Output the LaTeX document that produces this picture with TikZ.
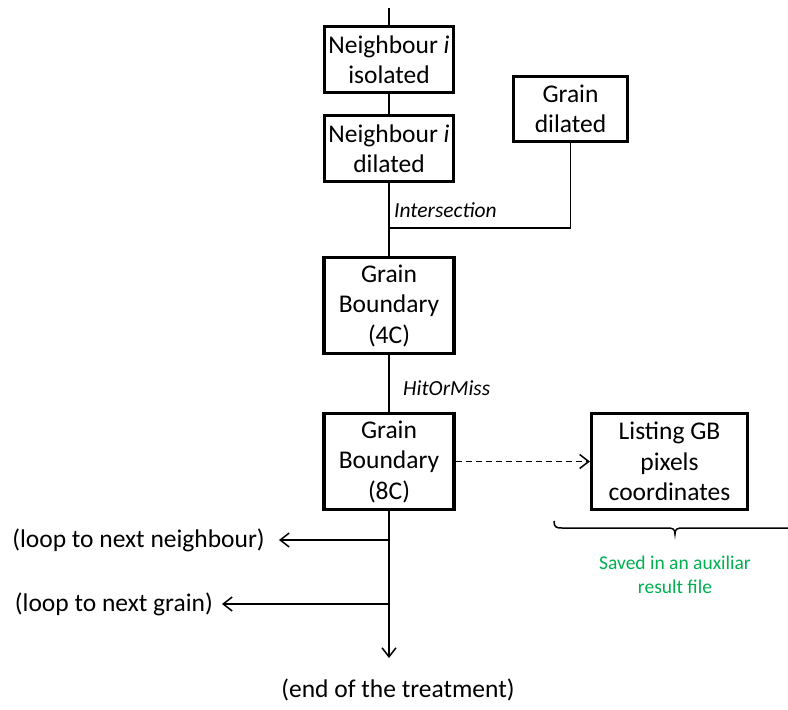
\documentclass[tikz,border=0pt]{standalone}
\usepackage{fontspec}
\setmainfont{Carlito}
\usetikzlibrary{arrows.meta}
\definecolor{offgreen}{HTML}{00B050}
\tikzset{
  box/.style={draw, line width=3.2pt, inner sep=0pt, align=center,
    font=\fontsize{25.5}{30.5}\selectfont},
  conn/.style={line width=1.5pt},
  arr/.style={conn, -{Straight Barb[length=9pt,width=14pt,line width=1.5pt]}},
  lab/.style={inner sep=0pt, font=\fontsize{21.5}{26}\selectfont\itshape},
  txt/.style={inner sep=0pt, font=\fontsize{25.5}{30.5}\selectfont},
}
\begin{document}
\begin{tikzpicture}[x=1pt,y=-1pt]
\useasboundingbox (0,0) rectangle (788,710);
\node[box, minimum width=129pt, minimum height=66pt] (iso) at (389,59.5) {Neighbour \textit{i}\\isolated};
\node[box, minimum width=129pt, minimum height=66pt] (dil) at (389,148.5) {Neighbour \textit{i}\\dilated};
\node[box, minimum width=114pt, minimum height=65pt] (gd) at (570.5,109) {Grain\\dilated};
\node[box, minimum width=130pt, minimum height=96pt] (gb4) at (389,305.5) {Grain\\Boundary\\(4C)};
\node[box, minimum width=130pt, minimum height=96pt] (gb8) at (389,461.5) {Grain\\Boundary\\(8C)};
\node[box, minimum width=156pt, minimum height=96pt] (lst) at (669.5,461.5) {Listing GB\\pixels\\coordinates};

\coordinate (top) at (389,8);
\coordinate (jx) at (389,228);
\coordinate (j1) at (389,540);
\coordinate (j2) at (389,604);
\coordinate (endp) at (389,658);

\node[lab, anchor=west] (inter) at (394,210) {Intersection};
\node[lab, anchor=west] (hom) at (403,388) {HitOrMiss};
\node[txt, anchor=east] (ln) at (265,540) {(loop to next neighbour)};
\node[txt, anchor=east] (lg) at (213,604) {(loop to next grain)};
\node[txt] (endt) at (398,690) {(end of the treatment)};
\node[inner sep=0pt, align=center, text=offgreen, font=\fontsize{19.5}{23.5}\selectfont] (saved) at (675,575) {Saved in an auxiliar\\result file};

\draw[conn] (top) -- (iso.north);
\draw[conn] (iso.south) -- (dil.north);
\draw[conn] (dil.south) -- (jx) -- (gb4.north);
\draw[conn] (gd.south) |- (jx);
\draw[conn] (gb4.south) -- (gb8.north);
\draw[conn, dashed, dash pattern=on 6pt off 4pt, -{Straight Barb[length=9pt,width=14pt,line width=1.5pt]}] (gb8.east) -- (lst.west);
\draw[arr] (gb8.south) -- (endp);
\draw[arr] (j1) -- ([xshift=14pt]ln.east);
\draw[arr] (j2) -- ([xshift=9pt]lg.east);
\draw[line width=1.5pt] (554,521) .. controls (554,527) and (556,528) .. (562,528) -- (667,528) .. controls (673,528) and (675,529) .. (675,534) .. controls (675,529) and (677,528) .. (683,528) -- (788,528);
\end{tikzpicture}
\end{document}
